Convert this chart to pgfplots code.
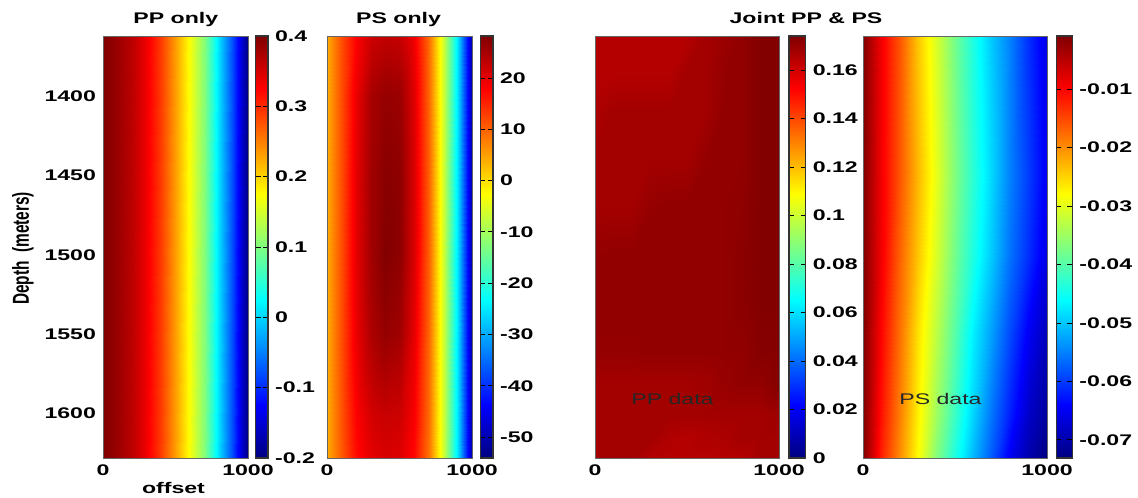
\documentclass[border=0pt]{standalone}
\usepackage{graphicx}
\usepackage{pgfplots}
\pgfplotsset{compat=1.18}
\usepackage{fontspec}
\setmainfont{Liberation Sans}[FakeStretch=1.5]
\newfontfamily\plainfont{Liberation Sans}
\newcommand\lab{\fontsize{7.7pt}{9pt}\selectfont\bfseries}
\newcommand\inlab{\fontsize{7.7pt}{9pt}\selectfont\mdseries}
\begin{document}
\begin{tikzpicture}
\path[use as bounding box] (0pt,0pt) rectangle (569pt,-248.5pt);
\pgfplotsset{
  every tick label/.append style={font=\lab},
  panel/.style={
    scale only axis, height=211pt, anchor=north west,
    xmin=0, xmax=1000, ymin=1362, ymax=1628, y dir=reverse,
    enlargelimits=false, axis on top, colormap/jet,
    major tick length=0pt,
    xtick={0,1000}, xticklabels={0,1000}, ytick=\empty,
    axis line style={line width=0.3pt, black!60},
    colorbar,
  },
  cbar/.style n args={2}{
    colorbar shift/.style={xshift=#1},
    colorbar style={
      at={(parent axis.north east)}, anchor=north west,
      scale only axis, width=#2, height=211pt,
      ytick pos=both, yticklabel pos=right, tick align=inside,
      major tick length=2.5pt,
      tick style={black, line width=0.4pt},
      axis line style={black!80, line width=0.6pt},
      scaled y ticks=false,
    },
  },
}
% ---------- PP only ----------
\begin{axis}[panel, width=72.5pt, at={(51.5pt,-18pt)},
  point meta min=-0.2, point meta max=0.4, cbar={3.85pt}{6.15pt},
  ytick={1400,1450,1500,1550,1600}, yticklabels={1400,1450,1500,1550,1600},
  colorbar style={ytick={-0.2,-0.1,0,0.1,0.2,0.3,0.4},
    yticklabels={-0.2,-0.1,0,0.1,0.2,0.3,0.4}}]
\addplot[surf, shader=interp, mesh/cols=11, point meta=explicit]
  table[x=x, y=y, meta=z] {
x y z
0 1362 0.40
100 1362 0.385
200 1362 0.365
300 1362 0.335
400 1362 0.29
500 1362 0.23
600 1362 0.17
700 1362 0.10
800 1362 0.005
900 1362 -0.085
1000 1362 -0.2
0 1628 0.40
100 1628 0.385
200 1628 0.365
300 1628 0.335
400 1628 0.29
500 1628 0.23
600 1628 0.17
700 1628 0.10
800 1628 0.005
900 1628 -0.085
1000 1628 -0.2
};
\end{axis}
% ---------- PS only ----------
\begin{axis}[panel, width=72.5pt, at={(163.5pt,-18pt)},
  point meta min=-54.1, point meta max=28.2, cbar={4.15pt}{6.35pt},
  colorbar style={ytick={-50,-40,-30,-20,-10,0,10,20},
    yticklabels={-50,-40,-30,-20,-10,0,10,20}}]
\addplot[surf, shader=interp, mesh/cols=11, point meta=explicit]
  table[x=x, y=y, meta=z] {
x y z
0 1362 4
100 1362 12
200 1362 18
300 1362 22
400 1362 23
500 1362 22.5
600 1362 19
700 1362 9
800 1362 -6
900 1362 -26
1000 1362 -51
0 1400 4
100 1400 12
200 1400 19.5
300 1400 25
400 1400 26.5
500 1400 26
600 1400 20.5
700 1400 9.5
800 1400 -6
900 1400 -26
1000 1400 -51
0 1450 4
100 1450 12
200 1450 20
300 1450 25.5
400 1450 27.5
500 1450 27
600 1450 21
700 1450 10
800 1450 -6
900 1450 -26
1000 1450 -51
0 1500 4
100 1500 12
200 1500 20
300 1500 25.5
400 1500 28
500 1500 27
600 1500 21
700 1500 10
800 1500 -6
900 1500 -26
1000 1500 -51
0 1550 4
100 1550 12
200 1550 19.5
300 1550 24.5
400 1550 26.5
500 1550 25.5
600 1550 20
700 1550 9.5
800 1550 -6
900 1550 -26
1000 1550 -51
0 1600 4
100 1600 11.5
200 1600 18
300 1600 21.5
400 1600 22.5
500 1600 22
600 1600 18.5
700 1600 9
800 1600 -6
900 1600 -26
1000 1600 -51
0 1628 4
100 1628 11
200 1628 17
300 1628 20
400 1628 21
500 1628 20.5
600 1628 17.5
700 1628 8.5
800 1628 -6
900 1628 -26
1000 1628 -51
};
\end{axis}
% ---------- Joint: PP data ----------
\begin{axis}[panel, width=92pt, at={(297.5pt,-18pt)},
  point meta min=0, point meta max=0.174, cbar={5pt}{8.35pt},
  colorbar style={ytick={0,0.02,0.04,0.06,0.08,0.1,0.12,0.14,0.16},
    yticklabels={0,0.02,0.04,0.06,0.08,0.1,0.12,0.14,0.16}}]
\addplot[surf, shader=interp, mesh/cols=11, point meta=explicit]
  table[x=x, y=y, meta=z] {
x y z
0 1362 0.165
100 1362 0.165
200 1362 0.165
300 1362 0.165
400 1362 0.165
500 1362 0.165
600 1362 0.168
700 1362 0.1695
800 1362 0.171
900 1362 0.1735
1000 1362 0.1735
0 1385 0.165
100 1385 0.165
200 1385 0.165
300 1385 0.165
400 1385 0.165
500 1385 0.168
600 1385 0.168
700 1385 0.1705
800 1385 0.171
900 1385 0.1735
1000 1385 0.1735
0 1410 0.1665
100 1410 0.168
200 1410 0.168
300 1410 0.168
400 1410 0.168
500 1410 0.168
600 1410 0.168
700 1410 0.171
800 1410 0.171
900 1410 0.1735
1000 1410 0.1735
0 1440 0.168
100 1440 0.168
200 1440 0.168
300 1440 0.168
400 1440 0.168
500 1440 0.168
600 1440 0.1705
700 1440 0.171
800 1440 0.171
900 1440 0.1735
1000 1440 0.1735
0 1470 0.168
100 1470 0.168
200 1470 0.168
300 1470 0.1705
400 1470 0.171
500 1470 0.171
600 1470 0.171
700 1470 0.171
800 1470 0.1715
900 1470 0.1735
1000 1470 0.1735
0 1500 0.1705
100 1500 0.171
200 1500 0.171
300 1500 0.171
400 1500 0.171
500 1500 0.171
600 1500 0.171
700 1500 0.171
800 1500 0.172
900 1500 0.1735
1000 1500 0.1735
0 1530 0.171
100 1530 0.171
200 1530 0.171
300 1530 0.171
400 1530 0.171
500 1530 0.171
600 1530 0.171
700 1530 0.171
800 1530 0.172
900 1530 0.1735
1000 1530 0.1735
0 1560 0.1705
100 1560 0.1705
200 1560 0.1705
300 1560 0.171
400 1560 0.171
500 1560 0.171
600 1560 0.171
700 1560 0.171
800 1560 0.171
900 1560 0.173
1000 1560 0.1735
0 1580 0.168
100 1580 0.168
200 1580 0.168
300 1580 0.168
400 1580 0.168
500 1580 0.168
600 1580 0.1685
700 1580 0.170
800 1580 0.171
900 1580 0.171
1000 1580 0.1735
0 1600 0.168
100 1600 0.168
200 1600 0.168
300 1600 0.168
400 1600 0.168
500 1600 0.168
600 1600 0.168
700 1600 0.168
800 1600 0.168
900 1600 0.168
1000 1600 0.169
0 1615 0.168
100 1615 0.168
200 1615 0.168
300 1615 0.168
400 1615 0.166
500 1615 0.165
600 1615 0.166
700 1615 0.1665
800 1615 0.168
900 1615 0.168
1000 1615 0.168
0 1628 0.168
100 1628 0.168
200 1628 0.168
300 1628 0.1655
400 1628 0.165
500 1628 0.165
600 1628 0.165
700 1628 0.165
800 1628 0.1655
900 1628 0.168
1000 1628 0.168
};
\node[anchor=base, font=\inlab, text=black!85] at (axis cs:421,1594) {PP data};
\end{axis}
% ---------- Joint: PS data ----------
\begin{axis}[panel, width=92pt, at={(431.5pt,-18pt)},
  point meta min=-0.0731, point meta max=-0.0009, cbar={4.7pt}{8pt},
  colorbar style={ytick={-0.07,-0.06,-0.05,-0.04,-0.03,-0.02,-0.01},
    yticklabels={-0.07,-0.06,-0.05,-0.04,-0.03,-0.02,-0.01}}]
\addplot[surf, shader=interp, mesh/cols=11, point meta=explicit]
  table[x=x, y=y, meta=z] {
x y z
0 1362 -0.001
100 1362 -0.009
200 1362 -0.016
300 1362 -0.024
400 1362 -0.031
500 1362 -0.038
600 1362 -0.044
700 1362 -0.050
800 1362 -0.055
900 1362 -0.061
1000 1362 -0.066
0 1450 -0.001
100 1450 -0.009
200 1450 -0.016
300 1450 -0.023
400 1450 -0.030
500 1450 -0.037
600 1450 -0.043
700 1450 -0.049
800 1450 -0.055
900 1450 -0.060
1000 1450 -0.065
0 1500 -0.001
100 1500 -0.009
200 1500 -0.017
300 1500 -0.024
400 1500 -0.031
500 1500 -0.038
600 1500 -0.044
700 1500 -0.050
800 1500 -0.056
900 1500 -0.061
1000 1500 -0.066
0 1550 -0.001
100 1550 -0.010
200 1550 -0.018
300 1550 -0.026
400 1550 -0.033
500 1550 -0.040
600 1550 -0.047
700 1550 -0.053
800 1550 -0.059
900 1550 -0.065
1000 1550 -0.069
0 1600 -0.001
100 1600 -0.011
200 1600 -0.019
300 1600 -0.027
400 1600 -0.035
500 1600 -0.042
600 1600 -0.049
700 1600 -0.056
800 1600 -0.062
900 1600 -0.068
1000 1600 -0.071
0 1628 -0.001
100 1628 -0.012
200 1628 -0.020
300 1628 -0.028
400 1628 -0.037
500 1628 -0.044
600 1628 -0.051
700 1628 -0.058
800 1628 -0.065
900 1628 -0.070
1000 1628 -0.073
};
\node[anchor=base, font=\inlab, text=black!85] at (axis cs:421,1594) {PS data};
\end{axis}
% ---------- titles and labels ----------
\node[anchor=base, font=\lab] at (87.9pt,-12pt) {PP only};
\node[anchor=base, font=\lab] at (199.3pt,-12pt) {PS only};
\node[anchor=base, font=\lab] at (403pt,-12pt) {Joint PP \& PS};
\node[anchor=base, font=\lab] at (86.75pt,-246.5pt) {offset};
\node[rotate=90] at (11.5pt,-124.25pt)
  {\scalebox{1}[1.5]{\plainfont\fontsize{7.7pt}{9pt}\selectfont\bfseries Depth\ \ (meters)}};
\end{tikzpicture}
\end{document}
